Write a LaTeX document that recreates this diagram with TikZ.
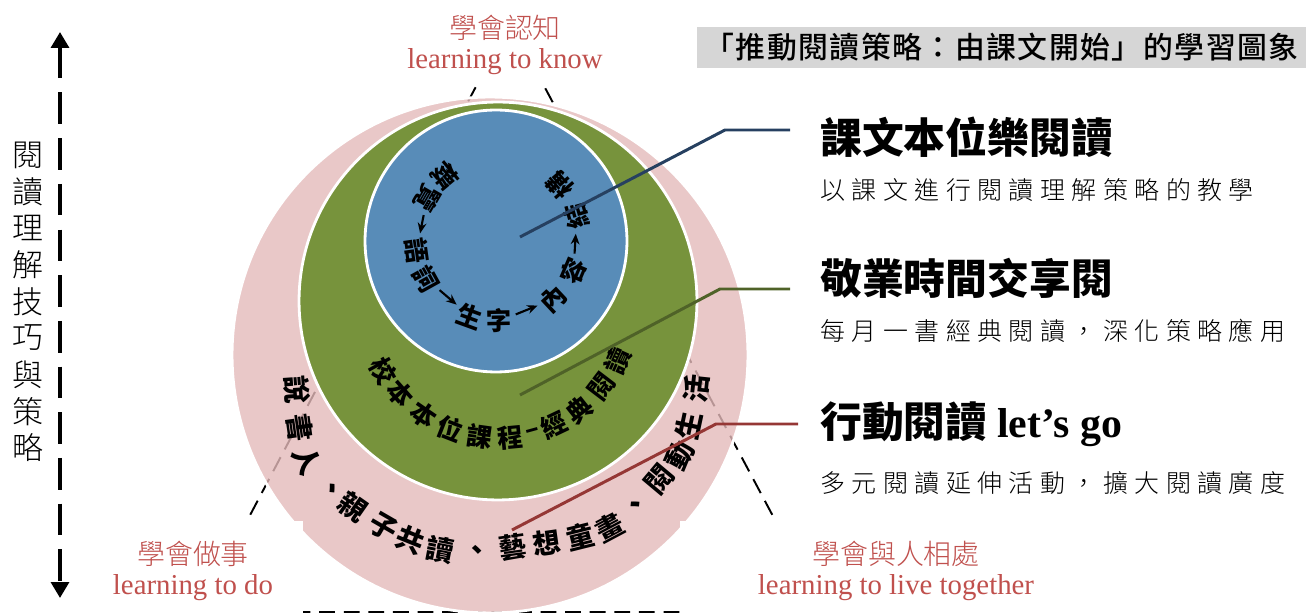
\documentclass[tikz,border=0pt]{standalone}
\usepackage{fontspec}
\setmainfont{Liberation Serif}
\newfontfamily\cjk{Noto Sans CJK TC}
\newfontfamily\cjklight{Noto Sans CJK TC Light}
\newfontfamily\cjkheavy{Noto Sans CJK TC Black}
\newfontfamily\cjkspaced{Noto Sans CJK TC Light}[LetterSpace=26]
\newfontfamily\cjktitle{Noto Sans CJK TC Medium}[LetterSpace=5]
\usetikzlibrary{arrows.meta}

\definecolor{ringblue}{RGB}{88,140,184}
\definecolor{ringgreen}{RGB}{119,147,60}
\definecolor{ringpink}{RGB}{228,186,186}
\definecolor{labelred}{RGB}{192,80,77}
\definecolor{leadblue}{RGB}{38,64,96}
\definecolor{leadgreen}{RGB}{79,98,40}
\definecolor{leadred}{RGB}{149,55,53}
\definecolor{titlegrey}{RGB}{214,214,214}

\tikzset{
  ring/.style={draw=white, line width=1.6pt},
  triline/.style={black, line width=1.1pt, dash pattern=on 9pt off 5pt},
  axisline/.style={black, line width=2.4pt, dash pattern=on 18pt off 8pt,
    {Triangle[length=9pt,width=10pt]}-{Triangle[length=9pt,width=10pt]}},
  bluechar/.style={font=\fontsize{14.4pt}{14.4pt}\cjkheavy, inner sep=1pt},
  greenchar/.style={font=\fontsize{14.6pt}{14.6pt}\cjkheavy, inner sep=0pt},
  pinkchar/.style={font=\fontsize{15.8pt}{15.8pt}\cjkheavy, inner sep=0pt},
  flowarrow/.style={-{Stealth[length=6pt,width=5pt]}, line width=1.2pt, shorten >=1pt, shorten <=1pt},
  sidetext/.style={font=\fontsize{17.6pt}{17.6pt}\cjklight, inner sep=0pt},
  redlabel/.style={fill=white, text=labelred, align=center, inner sep=0pt,
    font=\fontsize{16.4pt}{17.2pt}\selectfont},
  heading/.style={font=\fontsize{23.8pt}{23.8pt}\cjk\bfseries, inner sep=0pt, anchor=west},
  subline/.style={font=\fontsize{14.2pt}{14.2pt}\cjkspaced, inner sep=0pt, anchor=west},
  titlebox/.style={fill=titlegrey, font=\fontsize{17pt}{17pt}\cjktitle, inner sep=0pt},
  leader/.style={line width=1.7pt},
}

\begin{document}
\begin{tikzpicture}[x=0.02cm, y=-0.02cm]
\useasboundingbox (0,0) rectangle (1306,614);

% dashed triangle behind the rings
\draw[triline] (510,22) -- (199,612) -- (824,612) -- cycle;

% rings
\fill[ringpink, fill opacity=0.8] (490,355) circle (5.16cm);
\draw[ring] (490,355) circle (5.16cm);
\filldraw[ring, fill=ringgreen] (498,301) circle (3.98cm);
\filldraw[ring, fill=ringblue] (496,241) circle (2.62cm);

% inner ring text
\begin{scope}[shift={(498,239)}]
\foreach \a/\c [count=\i] in {230/概,210/覽,172/語,151/詞,110/生,89/字,47/內,23/容,-16/結,-41/構} {
  \node[bluechar, rotate={90-\a}] (b\i) at (\a:82) {\c};
}
\end{scope}
\foreach \i/\j in {2/3,4/5,6/7,8/9} {
  \draw[flowarrow] (b\i) -- (b\j);
}

% middle ring text
\begin{scope}[shift={(498,307)}]
\foreach \a/\c [count=\i] in {151/校,138.5/本,124.6/本,111.3/位,97.9/課,84.6/程,74.6/–,64.6/經,51.5/典,37.3/閱,24.2/讀} {
  \node[greenchar, rotate={90-\a}] (g\i) at (\a:131) {\c};
}
\end{scope}

% outer ring text
\foreach \x/\y/\r/\c [count=\i] in {297/390/-86/說,300/428/-82/書,307/460/-64/人,330/490/-46/、,
    353/507/-35/親,383/527/-30/子,410/540/-22/共,440/550/-11/讀,477/553/2/、,513/547/8/藝,
    547/543/8/想,580/537/14/童,610/527/28/畫,637/507/44/、,660/479/50/閱,680/455/62/動,
    689/426/78/生,696/389/84/活} {
  \node[pinkchar, rotate=\r] (p\i) at (\x,\y) {\c};
}

% leaders
\coordinate (bluetip) at (520,237);
\coordinate (bluebend) at (725,130);
\coordinate (blueend) at (790,130);
\coordinate (greentip) at (520,395);
\coordinate (greenbend) at (720,289);
\coordinate (greenend) at (790,289);
\coordinate (redtip) at (512,530);
\coordinate (redbend) at (716,424);
\coordinate (redend) at (798,424);
\draw[leader, leadblue] (bluetip) -- (bluebend) -- (blueend);
\draw[leader, leadgreen] (greentip) -- (greenbend) -- (greenend);
\draw[leader, leadred] (redtip) -- (redbend) -- (redend);

% right column
\node[titlebox, minimum width=12.18cm, minimum height=0.82cm] (title) at (1001.5,47.5) {「推動閱讀策略：由課文開始」的學習圖象};
\node[heading] (h1) at (820,137) {課文本位樂閱讀};
\node[subline] (s1) at (820,190) {以課文進行閱讀理解策略的教學};
\node[heading] (h2) at (820,278) {敬業時間交享閱};
\node[subline] (s2) at (820,331) {每月一書經典閱讀，深化策略應用};
\node[heading] (h3) at (820,424) {行動閱讀 {\rmfamily\bfseries let’s go}};
\node[subline] (s3) at (820,483) {多元閱讀延伸活動，擴大閱讀廣度};

% four pillars
\node[redlabel, minimum width=4.4cm, minimum height=1.6cm] (know) at (505,45)
  {{\fontsize{15.9pt}{17.2pt}\cjklight 學會認知}\\learning to know};
\node[redlabel, minimum width=4.4cm, minimum height=2cm] (todo) at (193,571)
  {{\fontsize{15.9pt}{17.2pt}\cjklight 學會做事}\\learning to do};
\node[redlabel, minimum width=8.64cm, minimum height=2cm] (together) at (896,571)
  {{\fontsize{15.9pt}{17.2pt}\cjklight 學會與人相處}\\learning to live together};

% left axis
\coordinate (vtop) at (60,32);
\coordinate (vbot) at (60,598);
\draw[axisline] (vtop) -- (vbot);
\foreach \c [count=\i] in {閱,讀,理,解,技,巧,與,策,略} {
  \node[sidetext] (v\i) at (28,{118.4+36.6*\i}) {\c};
}
\end{tikzpicture}
\end{document}
